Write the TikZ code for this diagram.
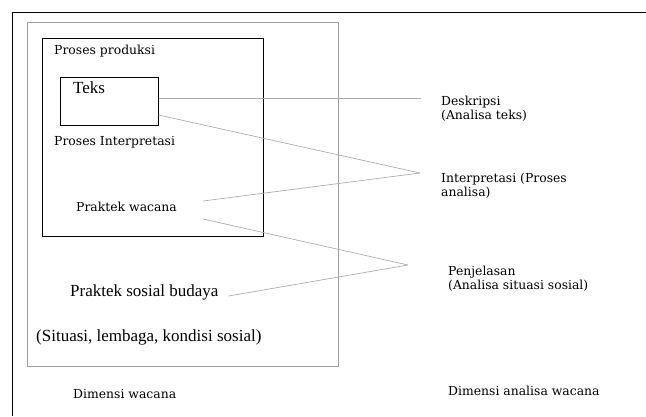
\documentclass[tikz,border=0pt]{standalone}
\usepackage{fontspec}
\setmainfont{DejaVu Serif}
\newfontfamily\besar{Liberation Serif}
\usepackage{tikz}

\begin{document}
\begin{tikzpicture}[x=1pt, y=-1pt,
    kecil/.style={font=\fontsize{12.4}{14}\selectfont, anchor=base west, inner sep=0pt, align=left},
    besar/.style={font=\besar\fontsize{17}{19}\selectfont, anchor=base west, inner sep=0pt},
    garis/.style={draw=gray!65, line width=0.7pt}]
    \useasboundingbox (0,0) rectangle (646,416);

    % Bingkai luar dan kotak
    \draw[line width=1pt] (12,416) -- (12,12) -- (646,12);
    \draw[gray!75, line width=0.8pt] (27,22) rectangle (338,366);
    \draw[line width=1pt] (42,38) rectangle (263,236);
    \node[draw, line width=1pt, minimum width=98pt, minimum height=48pt, inner sep=0pt] (tbox) at (109,101) {};

    % Teks dimensi wacana
    \node[kecil] (produksi) at (54,54) {Proses produksi};
    \node[besar] (teks) at (73,93) {Teks};
    \node[kecil] (interp) at (54,145) {Proses Interpretasi};
    \node[kecil] (pw) at (76,211) {Praktek wacana};
    \node[besar] (psb) at (70,296) {Praktek sosial budaya};
    \node[besar] (situasi) at (36,341) {(Situasi, lembaga, kondisi sosial)};
    \node[kecil] (dimw) at (73,398) {Dimensi wacana};

    % Teks dimensi analisa
    \node[kecil] (deskripsi) at (441,119) {Deskripsi\\(Analisa teks)};
    \node[kecil] (interpretasi) at (441,196) {Interpretasi (Proses\\analisa)};
    \node[kecil] (penjelasan) at (448,289) {Penjelasan\\(Analisa situasi sosial)};
    \node[kecil] (dima) at (448,395) {Dimensi analisa wacana};

    % Titik temu garis
    \coordinate (j1) at (421,98);
    \coordinate (j2) at (420,173);
    \coordinate (j3) at (408,265);

    % Garis penghubung
    \draw[garis] ([yshift=3pt]tbox.east) -- (j1);
    \draw[garis] ([yshift=-14pt]tbox.east) -- (j2);
    \draw[garis] ([shift={(26pt,10pt)}]pw.base east) -- (j2);
    \draw[garis] ([shift={(26pt,-8pt)}]pw.base east) -- (j3);
    \draw[garis] ([shift={(10pt,0pt)}]psb.base east) -- (j3);

\end{tikzpicture}
\end{document}
